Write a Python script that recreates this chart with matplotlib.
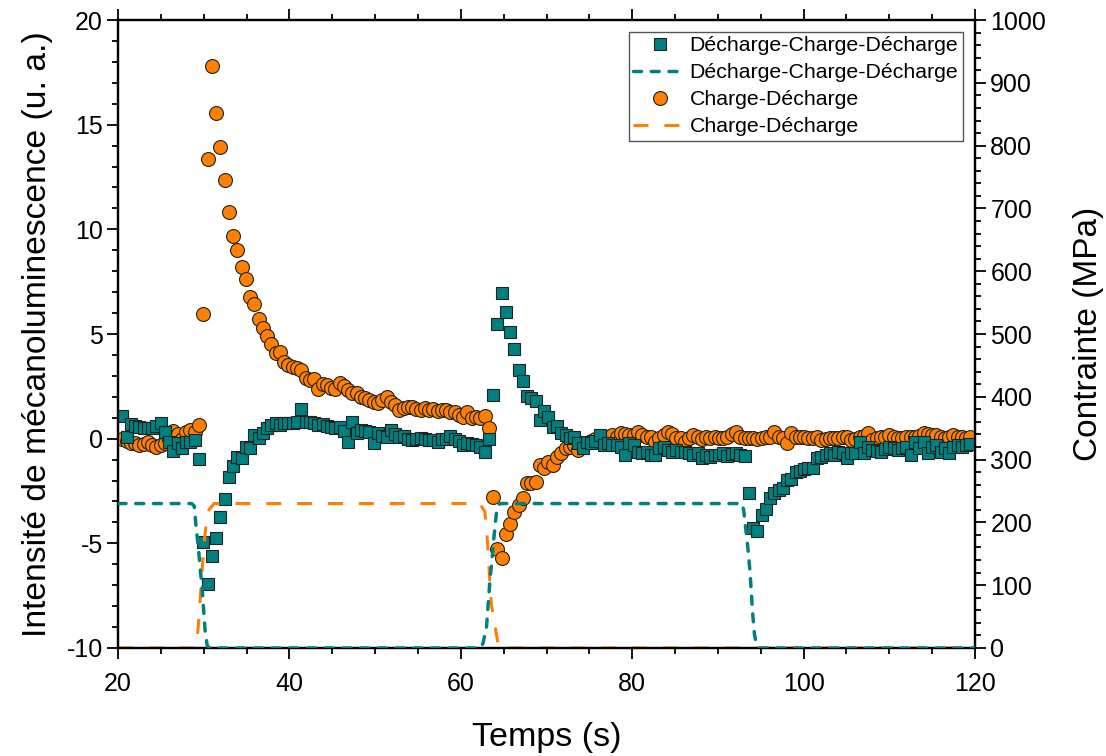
import numpy as np
import matplotlib
matplotlib.use("Agg")
import matplotlib.pyplot as plt
from matplotlib.ticker import MultipleLocator
from matplotlib.lines import Line2D

plt.rcParams['font.family'] = ['Liberation Sans', 'DejaVu Sans']
plt.rcParams['axes.unicode_minus'] = False

# ---------------- data ----------------
# sampling grid (s)
t0 = 20.0
dt = 0.4973
n_pts = 200
time = t0 + dt * np.arange(1, n_pts + 1)

# Décharge-Charge-Décharge : intensity (u. a.)
dcd_intensity = [
    1.10, 0.10, 0.70, 0.60, 0.55, 0.50, 0.50, 0.50, 0.60, 0.75,
    0.30, -0.15, -0.58, -0.22, -0.43, -0.15, -0.15, -0.07, -0.97, -4.93,
    -6.95, -5.60, -4.77, -3.76, -2.90, -1.82, -1.31, -0.86, -0.94, -0.39,
    -0.46, 0.17, 0.01, 0.25, 0.49, 0.65, 0.73, 0.65, 0.73, 0.73,
    0.75, 0.80, 1.40, 0.80, 0.80, 0.75, 0.65, 0.70, 0.60, 0.55,
    0.50, 0.55, 0.35, -0.15, 0.80, 0.25, 0.40, 0.35, 0.30, -0.20,
    0.25, 0.15, 0.10, 0.40, 0.20, 0.10, 0.15, 0.00, -0.05, 0.00,
    0.05, 0.00, -0.05, -0.05, -0.15, 0.00, 0.00, 0.15, 0.00, -0.10,
    -0.30, -0.20, -0.25, -0.30, -0.40, -0.63, 0.00, 2.08, 5.47, 6.94,
    6.03, 5.08, 4.28, 3.28, 2.75, 2.05, 1.95, 1.80, 0.90, 1.30,
    1.05, 0.57, 0.62, 0.25, 0.17, 0.05, 0.09, -0.20, -0.46, -0.18,
    -0.22, -0.10, 0.17, -0.31, -0.22, -0.30, -0.30, -0.39, -0.78, -0.22,
    -0.30, -0.63, -0.70, -0.63, -0.78, -0.78, -0.46, -0.39, -0.54, -0.63,
    -0.54, -0.63, -0.63, -0.70, -0.78, -0.70, -0.94, -0.78, -0.86, -0.78,
    -0.78, -0.70, -0.82, -0.75, -0.70, -0.80, -0.83, -2.62, -4.29, -4.40,
    -3.65, -3.38, -2.85, -2.62, -2.46, -2.38, -1.98, -1.94, -1.58, -1.53,
    -1.47, -1.42, -1.42, -0.94, -0.86, -0.78, -0.70, -0.78, -0.63, -0.70,
    -0.94, -0.70, -0.70, -0.15, -0.70, -0.39, -0.54, -0.60, -0.63, -0.50,
    -0.39, -0.46, -0.54, -0.46, -0.39, -0.78, -0.15, -0.46, -0.15, -0.70,
    -0.39, -0.30, -0.63, -0.46, -0.70, -0.39, -0.30, -0.39, -0.30, -0.25,
]

# Charge-Décharge : intensity (u. a.)
cd_intensity = [
    0.00, -0.10, -0.20, -0.20, -0.30, -0.25, -0.15, -0.30, -0.40, -0.30,
    -0.20, 0.00, 0.35, 0.20, 0.00, 0.30, 0.40, 0.30, 0.65, 5.97,
    13.36, 17.80, 15.57, 13.92, 12.36, 10.81, 9.70, 9.03, 8.20, 7.61,
    6.78, 6.42, 5.70, 5.27, 4.90, 4.52, 4.07, 4.15, 3.67, 3.50,
    3.44, 3.36, 3.30, 2.88, 2.80, 2.85, 2.35, 2.60, 2.56, 2.40,
    2.35, 2.64, 2.50, 2.32, 2.20, 2.16, 2.00, 1.95, 1.84, 1.75,
    1.69, 1.85, 2.00, 1.76, 1.60, 1.37, 1.45, 1.50, 1.52, 1.40,
    1.37, 1.45, 1.37, 1.40, 1.30, 1.37, 1.35, 1.29, 1.25, 1.15,
    1.05, 1.29, 0.97, 1.02, 1.00, 1.08, 0.52, -2.80, -5.29, -5.72,
    -4.56, -4.08, -3.49, -3.17, -2.85, -2.10, -2.10, -2.06, -1.26, -1.42,
    -1.10, -1.26, -0.86, -0.70, -0.46, -0.39, -0.30, -0.54, -0.30, -0.20,
    -0.10, 0.00, 0.05, 0.10, 0.09, 0.17, 0.10, 0.25, 0.20, 0.17,
    0.17, 0.33, 0.17, 0.10, 0.09, -0.15, 0.05, 0.17, 0.30, 0.20,
    0.01, 0.05, -0.15, 0.05, 0.17, 0.09, 0.00, 0.09, 0.05, 0.09,
    0.01, 0.05, 0.09, 0.20, 0.33, 0.10, 0.01, 0.05, 0.01, 0.00,
    0.01, 0.09, 0.10, 0.33, 0.10, 0.01, -0.22, 0.25, 0.10, 0.09,
    0.09, 0.01, 0.05, 0.09, -0.07, -0.03, 0.01, 0.05, 0.01, 0.09,
    0.09, -0.07, 0.00, 0.09, 0.15, 0.25, -0.07, 0.05, 0.09, 0.10,
    0.17, 0.09, 0.01, 0.05, 0.09, 0.10, 0.09, 0.15, 0.25, 0.20,
    0.17, 0.17, 0.09, 0.01, 0.10, 0.17, 0.10, 0.09, 0.05, 0.09,
]

# Stress (MPa) curves
dcd_stress_t = [20.0, 28.6, 28.9, 29.1, 29.4, 29.6, 29.8, 30.15, 30.4, 30.7,
                62.3, 62.6, 63.0, 63.4, 63.6, 63.8, 64.0, 64.2, 64.5,
                92.8, 93.0, 93.3, 93.55, 93.75, 93.9, 94.05, 94.25, 94.5, 94.8, 120.0]
dcd_stress_v = [230, 230, 226, 194, 157, 124, 98, 29, 4, 0,
                0, 8, 34, 108, 135, 167, 196, 220, 230,
                230, 220, 183, 152, 119, 88, 55, 23, 4, 0, 0]

cd_stress_t = [20.0, 29.15, 29.4, 29.7, 30.0, 30.3, 30.5, 31.2,
               62.2, 62.8, 63.0, 63.2, 63.4, 63.6, 64.0, 64.2, 64.4, 120.0]
cd_stress_v = [0, 0, 40, 100, 160, 200, 218, 230,
               230, 217, 191, 150, 100, 66, 34, 18, 0, 0]

labels = ['Décharge-Charge-Décharge', 'Décharge-Charge-Décharge',
          'Charge-Décharge', 'Charge-Décharge']

# ---------------- styles ----------------
teal = '#008080'
orange = '#FF8000'
teal_ls = (0, (2.3, 2.8))
orange_ls = (0, (4.9, 5.2))

fig = plt.figure(figsize=(11.06, 7.56), dpi=100)
ax = fig.add_axes([0.1067, 0.1429, 0.8816 - 0.1067, 0.9735 - 0.1429])
ax2 = ax.twinx()

ax.plot(time, cd_intensity, linestyle='none', marker='o', markersize=10,
        markerfacecolor=orange, markeredgecolor='#222222', markeredgewidth=0.8,
        zorder=3)
ax.plot(time, dcd_intensity, linestyle='none', marker='s', markersize=9,
        markerfacecolor=teal, markeredgecolor='#222222', markeredgewidth=0.8,
        zorder=4)

ax2.plot(dcd_stress_t, dcd_stress_v, color=teal, linewidth=2.5,
         linestyle=teal_ls, dash_capstyle='round', zorder=3)
ax2.plot(cd_stress_t, cd_stress_v, color=orange, linewidth=2.2,
         linestyle=orange_ls, zorder=2)

ax.set_xlim(20, 120)
ax.set_ylim(-10, 20)
ax2.set_ylim(0, 1000)

ax.xaxis.set_major_locator(MultipleLocator(20))
ax.xaxis.set_minor_locator(MultipleLocator(5))
ax.yaxis.set_major_locator(MultipleLocator(5))
ax.yaxis.set_minor_locator(MultipleLocator(1))
ax2.yaxis.set_major_locator(MultipleLocator(100))
ax2.yaxis.set_minor_locator(MultipleLocator(20))

tick_fs = 18
ax.tick_params(axis='x', which='both', direction='out', top=True, bottom=True,
               labeltop=False, labelsize=tick_fs, pad=9)
ax.tick_params(axis='y', which='both', direction='out', left=True, right=False,
               labelsize=tick_fs, pad=3)
ax2.tick_params(axis='y', which='both', direction='out', right=True, left=False,
                labelsize=tick_fs, pad=3)
for a in (ax, ax2):
    a.tick_params(which='major', length=8, width=1.3, color='black')
    a.tick_params(which='minor', length=4.5, width=1.3, color='black')
    for s in a.spines.values():
        s.set_linewidth(1.6)

ax.set_xlabel('Temps (s)', fontsize=24.5, labelpad=19)
ax.set_ylabel('Intensité de mécanoluminescence (u. a.)', fontsize=24.2, labelpad=10)
ax2.set_ylabel('Contrainte (MPa)', fontsize=24, labelpad=19)

handles = [
    Line2D([], [], linestyle='none', marker='s', markersize=9,
           markerfacecolor=teal, markeredgecolor='#222222', markeredgewidth=0.8),
    Line2D([], [], color=teal, linewidth=2.5, linestyle=teal_ls, dash_capstyle='round'),
    Line2D([], [], linestyle='none', marker='o', markersize=10,
           markerfacecolor=orange, markeredgecolor='#222222', markeredgewidth=0.8),
    Line2D([], [], color=orange, linewidth=2.2, linestyle=orange_ls),
]
leg = ax2.legend(handles, labels, loc='upper right', bbox_to_anchor=(0.9855, 0.981),
                 fontsize=15.3, frameon=True, fancybox=False, framealpha=1,
                 edgecolor='#555555', handlelength=2.5, handletextpad=0.15,
                 borderpad=0.2, labelspacing=0.38, borderaxespad=0.0)
leg.get_frame().set_linewidth(1.0)

fig.savefig('out.png', dpi=100)
